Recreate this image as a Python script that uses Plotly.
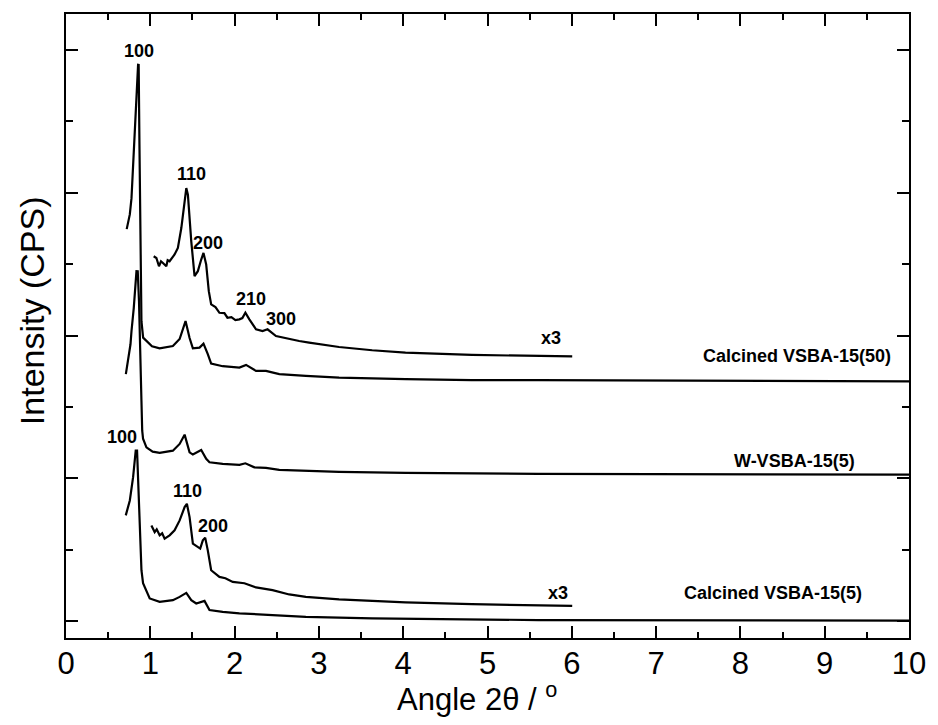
import plotly.graph_objects as go

# ---- data (arbitrary intensity units, offset stacked) ----
c50_x = [0.72, 0.757, 0.777, 0.804, 0.836, 0.855, 0.862, 0.872, 0.882, 0.895, 0.915, 0.955, 1.02, 1.111,
         1.268, 1.348, 1.418, 1.466, 1.505, 1.584, 1.631, 1.682, 1.722, 1.859, 2.057, 2.136, 2.254, 2.372,
         2.530, 2.845, 3.239, 4.027, 4.811, 5.603, 10.0]
c50_y = [5.49, 5.696, 5.924, 6.576, 7.274, 7.791, 7.79, 6.6, 5.2, 4.2, 3.97, 3.92, 3.85, 3.821,
         3.853, 3.951, 4.202, 3.965, 3.821, 3.830, 3.886, 3.738, 3.606, 3.570, 3.550, 3.588, 3.504, 3.504,
         3.458, 3.435, 3.411, 3.389, 3.375, 3.375, 3.358]

w5_x = [0.71, 0.736, 0.765, 0.777, 0.804, 0.836, 0.851, 0.866, 0.881, 0.895, 0.904, 0.914, 0.954, 1.028,
        1.111, 1.268, 1.348, 1.407, 1.466, 1.505, 1.604, 1.663, 1.702, 1.859, 2.057, 2.128, 2.234, 2.372,
        2.530, 2.845, 3.239, 4.027, 4.814, 5.603, 10.0]
w5_y = [3.46, 3.644, 3.877, 4.063, 4.388, 4.901, 4.90, 4.48, 3.923, 3.086, 2.667, 2.555, 2.434, 2.374,
        2.355, 2.387, 2.481, 2.611, 2.364, 2.332, 2.397, 2.272, 2.224, 2.202, 2.188, 2.210, 2.154, 2.146,
        2.118, 2.104, 2.090, 2.076, 2.071, 2.062, 2.052]

c5_x = [0.709, 0.757, 0.796, 0.827, 0.843, 0.875, 0.895, 0.914, 0.973, 0.993, 1.111, 1.268, 1.348, 1.427,
        1.486, 1.545, 1.643, 1.702, 1.859, 2.057, 2.450, 2.845, 3.632, 4.814, 5.603, 10.0]
c5_y = [1.48, 1.689, 2.015, 2.387, 2.387, 1.271, 0.712, 0.531, 0.387, 0.317, 0.269, 0.293, 0.339, 0.395,
        0.293, 0.247, 0.283, 0.154, 0.130, 0.108, 0.084, 0.060, 0.038, 0.024, 0.014, 0.007]

c50x3_x = [1.040, 1.072, 1.103, 1.127, 1.150, 1.190, 1.206, 1.229, 1.288, 1.327, 1.368, 1.407, 1.427, 1.446,
           1.486, 1.525, 1.564, 1.604, 1.631, 1.663, 1.694, 1.722, 1.773, 1.820, 1.879, 1.915, 1.962, 2.009,
           2.057, 2.092, 2.128, 2.175, 2.254, 2.332, 2.391, 2.491, 2.648, 2.766, 2.884, 3.239, 3.632, 4.027,
           4.814, 5.603, 6.005]
c50x3_y = [5.110, 5.086, 4.970, 5.040, 5.016, 4.970, 5.054, 5.040, 5.134, 5.226, 5.505, 5.878, 6.064, 5.972,
           5.319, 4.831, 4.901, 5.064, 5.156, 4.994, 4.621, 4.436, 4.398, 4.318, 4.314, 4.249, 4.258, 4.216,
           4.226, 4.244, 4.318, 4.226, 4.087, 4.063, 4.087, 3.993, 3.947, 3.923, 3.900, 3.839, 3.793, 3.760,
           3.728, 3.714, 3.707]

c5x3_x = [1.013, 1.052, 1.076, 1.111, 1.141, 1.170, 1.229, 1.288, 1.348, 1.407, 1.434, 1.466, 1.505, 1.564,
          1.592, 1.623, 1.651, 1.682, 1.722, 1.820, 1.891, 1.978, 2.057, 2.116, 2.254, 2.450, 2.648, 2.845,
          3.239, 3.632, 4.027, 4.814, 5.603, 6.005]
c5x3_y = [1.340, 1.247, 1.285, 1.201, 1.229, 1.155, 1.201, 1.271, 1.410, 1.596, 1.643, 1.456, 1.085, 1.037,
          1.015, 1.131, 1.169, 0.991, 0.712, 0.619, 0.600, 0.549, 0.535, 0.530, 0.471, 0.433, 0.373, 0.339,
          0.303, 0.279, 0.261, 0.237, 0.219, 0.212]

# labels: (text, x, y)
peak_labels = [("100", 0.863, 7.986), ("110", 1.489, 6.269), ("200", 1.690, 5.291),
               ("210", 2.199, 4.510), ("300", 2.553, 4.230), ("x3", 5.757, 3.965),
               ("Calcined VSBA-15(50)", 8.676, 3.714), ("W-VSBA-15(5)", 8.641, 2.248),
               ("100", 0.662, 2.583), ("110", 1.442, 1.829), ("200", 1.749, 1.326),
               ("x3", 5.839, 0.391), ("Calcined VSBA-15(5)", 8.381, 0.391)]

x_ticks = list(range(0, 11))
y_ticks = [0, 2, 4, 6, 8]

FONT = "Arial, Liberation Sans, sans-serif"

fig = go.Figure()
for xs, ys in [(c50_x, c50_y), (w5_x, w5_y), (c5_x, c5_y), (c50x3_x, c50x3_y), (c5x3_x, c5x3_y)]:
    fig.add_trace(go.Scatter(x=xs, y=ys, mode="lines",
                             line=dict(color="black", width=2.2), showlegend=False, hoverinfo="skip"))

annotations = []
for t, x, y in peak_labels:
    annotations.append(dict(text=t, x=x, y=y, xref="x", yref="y", showarrow=False,
                            xanchor="center", yanchor="middle",
                            font=dict(family=FONT, size=18, color="black", weight="bold")))
annotations.append(dict(text="Intensity (CPS)", x=-0.0402, y=0.524, xref="paper", yref="paper",
                        showarrow=False, textangle=-90, xanchor="center", yanchor="middle",
                        font=dict(family=FONT, size=34, color="black")))
annotations.append(dict(text="Angle 2\u03b8 / <sup>o</sup>", x=0.487, y=-0.0945, xref="paper", yref="paper",
                        showarrow=False, xanchor="center", yanchor="middle",
                        font=dict(family=FONT, size=31, color="black")))

# page body has an 8px default margin: size the figure so the plot area lands where the reference has it
fig.update_layout(
    width=922, height=709,
    margin=dict(l=58, r=18, t=4, b=79),
    paper_bgcolor="white", plot_bgcolor="white",
    annotations=annotations,
    xaxis=dict(range=[0, 10], tickvals=x_ticks, ticktext=[str(v) for v in x_ticks],
               ticks="inside", ticklen=12, tickwidth=2, tickcolor="black",
               minor=dict(dtick=0.5, ticks="inside", ticklen=6, tickwidth=2, tickcolor="black"),
               showline=True, linewidth=2, linecolor="black", mirror="allticks",
               showgrid=False, zeroline=False, ticklabelstandoff=-3,
               tickfont=dict(family=FONT, size=31, color="black")),
    yaxis=dict(range=[-0.237, 8.503], tickvals=y_ticks, showticklabels=False,
               ticks="inside", ticklen=12, tickwidth=2, tickcolor="black",
               minor=dict(tickvals=[1, 3, 5, 7], ticks="inside", ticklen=7, tickwidth=2, tickcolor="black"),
               showline=True, linewidth=2, linecolor="black", mirror="allticks",
               showgrid=False, zeroline=False),
)

fig.write_html("out.html")
